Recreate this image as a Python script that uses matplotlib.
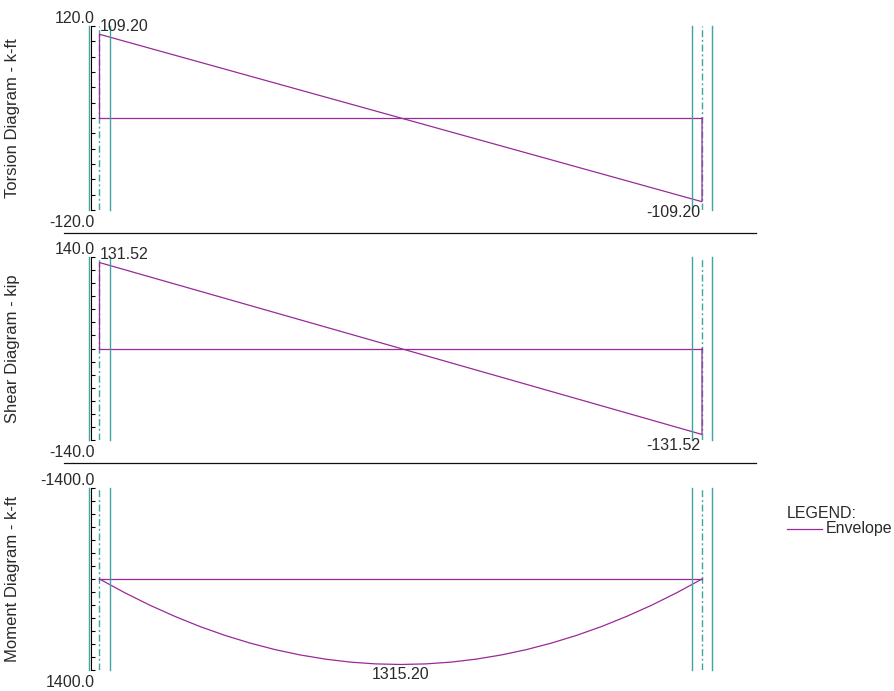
import numpy as np
import matplotlib
matplotlib.use("Agg")
import matplotlib.pyplot as plt
from matplotlib.lines import Line2D

W, H = 895, 691
DPI = 100

ENV_COLOR = "#992a99"
COL_COLOR = "#42a3a3"
TEXT_COLOR = "#2a2a2a"
FONT = "Liberation Sans"
FS = 11.5

# beam geometry (ft): support centre lines and column half width
supports = [0.0, 60.0]
col_half = 1.0

# torsion envelope (k-ft)
torsion_x = [0.0, 0.0, 60.0, 60.0]
torsion_v = [0.0, 109.20, -109.20, 0.0]

# shear envelope (kip)
shear_x = [0.0, 0.0, 60.0, 60.0]
shear_v = [0.0, 131.52, -131.52, 0.0]

# moment envelope (k-ft), read at stations along the span
moment_x = [0, 2.5, 5, 7.5, 10, 12.5, 15, 17.5, 20, 22.5, 25, 27.5, 30,
            32.5, 35, 37.5, 40, 42.5, 45, 47.5, 50, 52.5, 55, 57.5, 60]
moment_v = [0, 210, 402, 575, 731, 868, 986, 1087, 1169, 1233, 1279, 1306,
            1315.2, 1306, 1279, 1233, 1169, 1087, 986, 868, 731, 575, 402,
            210, 0]

panels = [
    # label, x, v, (bottom, top) limits, tick step, peak labels
    ("Torsion Diagram - k-ft", torsion_x, torsion_v, (-120.0, 120.0), 20,
     [(0.0, 109.20, "109.20", "left", "baseline", (0, 2.5)),
      (60.0, -109.20, "-109.20", "right", "top", (-1, -2.5))]),
    ("Shear Diagram - kip", shear_x, shear_v, (-140.0, 140.0), 20,
     [(0.0, 131.52, "131.52", "left", "baseline", (0, 2.5)),
      (60.0, -131.52, "-131.52", "right", "top", (-1, -2.5))]),
    ("Moment Diagram - k-ft", moment_x, moment_v, (1400.0, -1400.0), 200,
     [(30.0, 1315.20, "1315.20", "center", "top", (0, -2))]),
]

# panel extents in pixels (top, bottom)
panel_px = [(26, 210), (257, 440), (488, 670)]
ax_left_px, ax_right_px = 91, 756
px_per_ft = (702 - 99.5) / 60.0
xlim = ((ax_left_px - 99.5) / px_per_ft, (ax_right_px - 99.5) / px_per_ft)

plt.rcParams["font.family"] = [FONT, "DejaVu Sans"]

fig = plt.figure(figsize=(W / DPI, H / DPI), dpi=DPI)

for (label, xs, vs, ylim, step, peaks), (top, bot) in zip(panels, panel_px):
    ax = fig.add_axes([ax_left_px / W, (H - bot) / H,
                       (ax_right_px - ax_left_px) / W, (bot - top) / H])
    ax.set_xlim(*xlim)
    ax.set_ylim(*ylim)

    # envelope outline and zero line
    ax.plot(xs, vs, color=ENV_COLOR, lw=0.9, solid_joinstyle="miter")
    ax.plot(supports, [0, 0], color=ENV_COLOR, lw=0.9)

    # column faces and centre lines
    for s in supports:
        ax.axvline(s - col_half, color=COL_COLOR, lw=1.0, clip_on=False)
        ax.axvline(s + col_half, color=COL_COLOR, lw=1.0, clip_on=False)
        ax.axvline(s, color=COL_COLOR, lw=1.0, ls=(0, (5, 2, 1.4, 2)),
                   zorder=1)

    for sp in ["top", "right", "bottom"]:
        ax.spines[sp].set_visible(False)
    ax.spines["left"].set_linewidth(0.8)
    ax.set_xticks([])
    lo, hi = min(ylim), max(ylim)
    ax.set_yticks(np.arange(lo, hi + step / 2, step))
    ax.tick_params(axis="y", direction="in", length=3, width=0.8,
                   labelleft=False)

    # axis end labels
    ax.annotate("%.1f" % ylim[1], xy=(0, 1), xycoords="axes fraction",
                xytext=(2.5, 2), textcoords="offset points", ha="right",
                va="baseline", fontsize=FS, color=TEXT_COLOR)
    ax.annotate("%.1f" % ylim[0], xy=(0, 0), xycoords="axes fraction",
                xytext=(2.5, -3.5), textcoords="offset points", ha="right",
                va="top", fontsize=FS, color=TEXT_COLOR)

    for px, pv, txt, ha, va, off in peaks:
        ax.annotate(txt, xy=(px, pv), xytext=off, textcoords="offset points",
                    ha=ha, va=va, fontsize=FS, color=TEXT_COLOR)

    ax.set_ylabel(label, fontsize=12, color=TEXT_COLOR)
    ax.yaxis.set_label_coords((20 - ax_left_px) / (ax_right_px - ax_left_px),
                              0.5)

# separators between panels
for y in [233, 463]:
    fig.add_artist(Line2D([64 / W, 756 / W], [1 - y / H, 1 - y / H],
                          color="#111111", lw=0.9))

# legend
fig.text(787 / W, 1 - 518 / H, "LEGEND:", fontsize=FS, color=TEXT_COLOR,
         ha="left", va="baseline")
fig.add_artist(Line2D([787 / W, 822 / W], [1 - 529 / H, 1 - 529 / H],
                      color=ENV_COLOR, lw=0.9))
fig.text(826 / W, 1 - 529 / H, "Envelope", fontsize=FS, color=TEXT_COLOR,
         ha="left", va="center")

fig.savefig("out.png", dpi=DPI)
